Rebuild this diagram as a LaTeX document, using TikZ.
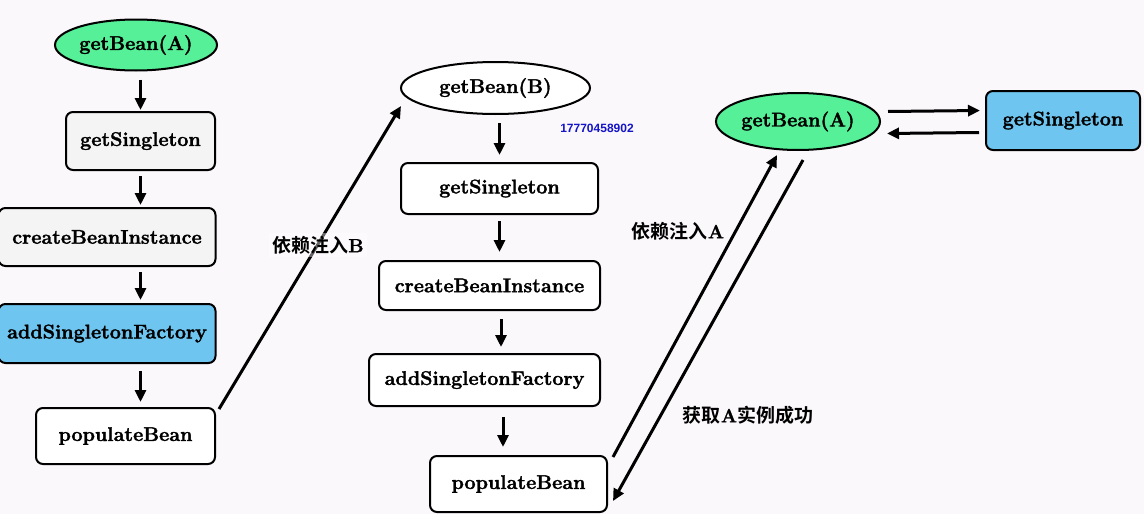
\documentclass[tikz,border=0pt]{standalone}
\usepackage{fontspec}
\newfontfamily\boxfont{Latin Modern Roman}[BoldFeatures={FakeBold=1.6}]
\newfontfamily\cjk[BoldFont={Noto Sans CJK SC Bold}]{Noto Sans CJK SC}
\newfontfamily\numfont{Liberation Sans}
\usetikzlibrary{arrows.meta,shapes.geometric}
\definecolor{bg}{HTML}{FBF8FB}
\definecolor{beangreen}{HTML}{55F098}
\definecolor{beanblue}{HTML}{6EC5F0}
\definecolor{boxgray}{HTML}{F4F4F4}
\definecolor{telblue}{HTML}{1414C8}
\tikzset{
  every node/.style={font=\fontsize{19.8}{22}\boxfont\bfseries},
  stepbox/.style={draw, line width=2pt, rounded corners=7pt, inner sep=0pt, align=center},
  oval/.style={ellipse, draw, line width=2pt, inner sep=0pt},
  arr/.style={line width=3pt, -{Triangle[length=12pt,width=11pt]}},
  lbl/.style={font=\fontsize{19}{21}\selectfont\cjk\bfseries},
}
\begin{document}
\begin{tikzpicture}[x=1pt,y=-1pt]
\fill[bg] (0,0) rectangle (1144,514);
\useasboundingbox (0,0) rectangle (1144,514);
% left column
\node[oval, fill=beangreen, minimum width=162, minimum height=51] (LgetA) at (136,45) {getBean(A)};
\node[stepbox, fill=boxgray, minimum width=149, minimum height=58] (LgetS) at (140.5,141) {getSingleton};
\node[stepbox, fill=boxgray, minimum width=217, minimum height=58] (LcreB) at (107,237) {createBeanInstance};
\node[stepbox, fill=beanblue, minimum width=217, minimum height=59] (LaddS) at (107,333.5) {addSingletonFactory};
\node[stepbox, fill=white, minimum width=179, minimum height=56] (LpopB) at (125.5,436) {populateBean};
\draw[arr, shorten <=8pt, shorten >=1pt] (LgetA.south -| LgetS.north) -- (LgetS.north);
\draw[arr, shorten <=5pt, shorten >=2pt] (LgetS.south) -- (LgetS.south |- LcreB.north);
\draw[arr, shorten <=5pt, shorten >=3pt] (LgetS.south |- LcreB.south) -- (LgetS.south |- LaddS.north);
\draw[arr, shorten <=7pt, shorten >=5pt] (LgetS.south |- LaddS.south) -- (LgetS.south |- LpopB.north);
% middle column
\node[oval, fill=white, minimum width=189, minimum height=52] (MgetB) at (495.5,88) {getBean(B)};
\node[stepbox, fill=white, minimum width=197, minimum height=51] (MgetS) at (499.5,188.5) {getSingleton};
\node[stepbox, fill=white, minimum width=221, minimum height=49] (McreB) at (489.5,285.5) {createBeanInstance};
\node[stepbox, fill=white, minimum width=231, minimum height=52] (MaddS) at (484.5,380) {addSingletonFactory};
\node[stepbox, fill=white, minimum width=177, minimum height=56] (MpopB) at (518.5,484) {populateBean};
\draw[arr, shorten <=8pt, shorten >=7pt] (MgetB.south -| MgetS.north) -- (MgetS.north);
\draw[arr, shorten <=6pt, shorten >=8pt] (MgetS.south) -- (MgetS.south |- McreB.north);
\draw[arr, shorten <=8pt, shorten >=6pt] ([xshift=1.5pt]MgetS.south |- McreB.south) -- ([xshift=1.5pt]MgetS.south |- MaddS.north);
\draw[arr, shorten <=10pt, shorten >=8pt] ([xshift=3.5pt]MgetS.south |- MaddS.south) -- ([xshift=3.5pt]MgetS.south |- MpopB.north);
\node[font=\fontsize{12}{13}\selectfont\numfont\bfseries, text=telblue] (tel) at (597,128) {17770458902};
% left -> middle
\coordinate (Bin) at (401,106);
\draw[arr] ([xshift=3pt,yshift=-2pt]LpopB.north east) -- (Bin);
\node[lbl, fill=white, fill opacity=0.4, text opacity=1, inner sep=3pt] (depB) at (318,245) {依赖注入\boxfont\bfseries B};
% right
\node[oval, fill=beangreen, minimum width=164, minimum height=57] (RgetA) at (798,121.5) {getBean(A)};
\node[stepbox, fill=beanblue, minimum width=154, minimum height=59] (RgetS) at (1063,120.5) {getSingleton};
\draw[arr] ([xshift=7pt,yshift=10pt]RgetA.east) -- ([xshift=-5pt,yshift=10pt]RgetS.west);
\draw[arr] ([xshift=-6pt,yshift=-12pt]RgetS.west) -- ([xshift=6pt,yshift=-12pt]RgetA.east);
\coordinate (Ain) at (777,155);
\coordinate (Aout) at (803,160);
\coordinate (Pin) at (613,501);
\draw[arr] ([xshift=5pt,yshift=-2pt]MpopB.north east) -- (Ain);
\draw[arr] (Aout) -- (Pin);
\node[lbl] (depA) at (678,231) {依赖注入\boxfont\bfseries A};
\node[lbl] (gotA) at (748,415) {获取\boxfont\bfseries A\cjk\bfseries 实例成功};
\end{tikzpicture}
\end{document}
